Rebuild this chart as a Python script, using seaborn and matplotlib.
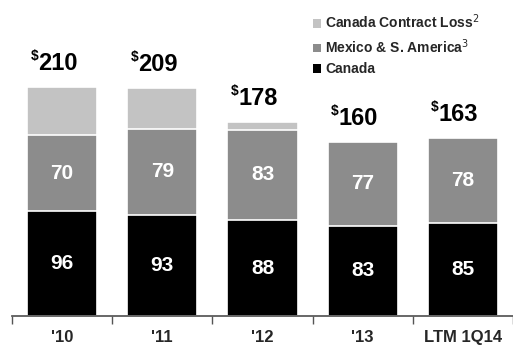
"""
Stacked revenue bars: Canada / Mexico & S. America / Canada contract loss
"""
import numpy as np
import pandas as pd
import matplotlib
matplotlib.use("Agg")
import matplotlib.pyplot as plt
import seaborn as sns
from matplotlib.patches import Patch

sns.set_theme(style="white")
plt.rcParams['font.family'] = ['Liberation Sans', 'DejaVu Sans']

# data
periods = ["'10", "'11", "'12", "'13", "LTM 1Q14"]
canada = [96, 93, 88, 83, 85]
mexico = [70, 79, 83, 77, 78]
contract_loss = [44, 37, 7, 0, 0]
totals = [210, 209, 178, 160, 163]

legend_labels = ["Canada Contract Loss$^2$", "Mexico & S. America$^3$", "Canada"]
colors = {"Canada": "#000000", "Mexico & S. America": "#8c8c8c",
          "Canada Contract Loss": "#c3c3c3"}

df = pd.DataFrame({"period": periods, "Canada": canada,
                   "Mexico & S. America": mexico,
                   "Canada Contract Loss": contract_loss})
df["top_mex"] = df["Canada"] + df["Mexico & S. America"]
df["top_all"] = df["top_mex"] + df["Canada Contract Loss"]

fig = plt.figure(figsize=(5.13, 3.52), dpi=100)
ax = fig.add_axes([12 / 513, 36 / 352, 501 / 513, 316 / 352])

# draw from tallest layer down so lower layers cover upper ones
for col, name in [("top_all", "Canada Contract Loss"),
                  ("top_mex", "Mexico & S. America"),
                  ("Canada", "Canada")]:
    sns.barplot(data=df, x="period", y=col, color=colors[name], width=0.7,
                edgecolor="white", linewidth=1.2, saturation=1, ax=ax)

# segment labels
for i in range(len(periods)):
    ax.text(i, canada[i] / 2, str(canada[i]), ha="center", va="center",
            color="white", fontsize=15, fontweight="bold")
    ax.text(i, canada[i] + mexico[i] / 2, str(mexico[i]), ha="center",
            va="center", color="white", fontsize=15, fontweight="bold")
    ax.annotate(str(totals[i]), (i, totals[i]), xytext=(-24, 12),
                textcoords="offset pixels", ha="left", va="bottom",
                fontsize=17, fontweight="bold", color="black")
    ax.annotate("$", (i, totals[i]), xytext=(-24, 24),
                textcoords="offset pixels", ha="right", va="bottom",
                fontsize=10, fontweight="bold", color="black")

ax.set_xlim(-0.5, 4.5)
ax.set_ylim(0, 290)
ax.set_xlabel("")
ax.set_ylabel("")
ax.set_yticks([])
ax.set_xticks(range(len(periods)))
ax.set_xticklabels(periods, fontsize=12, fontweight="bold")
ax.tick_params(axis="x", which="major", length=0, pad=10)
ax.set_xticks(np.arange(-0.5, 5, 1), minor=True)
ax.tick_params(axis="x", which="minor", bottom=True, length=6, width=1,
               color="#555555", direction="out")
for side in ["top", "right", "left"]:
    ax.spines[side].set_visible(False)
ax.spines["bottom"].set_color("#555555")

handles = [Patch(facecolor=colors[n], edgecolor="none")
           for n in ["Canada Contract Loss", "Mexico & S. America", "Canada"]]
leg = fig.legend(handles, legend_labels, loc="upper left",
                 bbox_to_anchor=(300 / 513, 1.0), frameon=False,
                 prop={"weight": "bold", "size": 10}, handlelength=0.6,
                 handleheight=0.6, handletextpad=0.3, labelspacing=0.45)

plt.savefig("out.png", dpi=100)
